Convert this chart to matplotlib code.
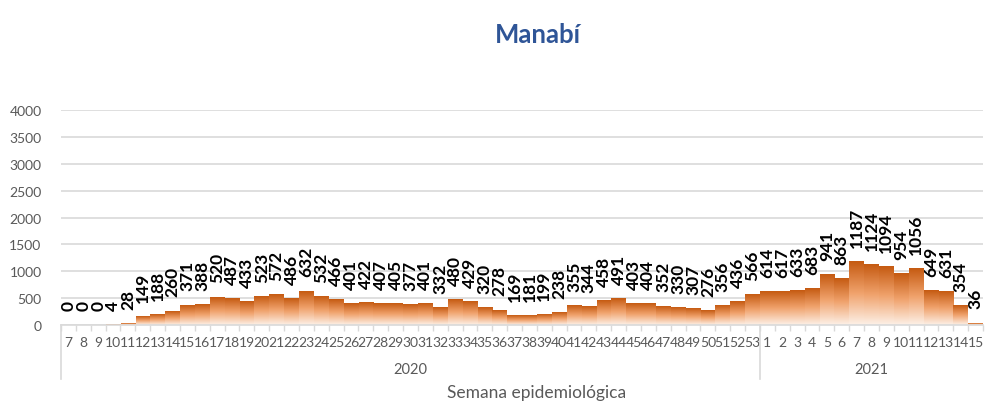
import matplotlib
matplotlib.use("Agg")
import matplotlib.pyplot as plt
import matplotlib.transforms as mtransforms
from matplotlib.colors import LinearSegmentedColormap
import numpy as np

plt.rcParams['font.family'] = ['Lato', 'DejaVu Sans']

# Casos por semana epidemiológica - Manabí
weeks_2020 = list(range(7, 54))
weeks_2021 = list(range(1, 16))
cases_2020 = [0, 0, 0, 4, 28, 149, 188, 260, 371, 388, 520, 487, 433, 523, 572,
              486, 632, 532, 466, 401, 422, 407, 405, 377, 401, 332, 480, 429,
              320, 278, 169, 181, 199, 238, 355, 344, 458, 491, 403, 404, 352,
              330, 307, 276, 356, 436, 566]
cases_2021 = [614, 617, 633, 683, 941, 863, 1187, 1124, 1094, 954, 1056, 649,
              631, 354, 36]
years = ['2020', '2021']

week_labels = [str(w) for w in weeks_2020 + weeks_2021]
cases = cases_2020 + cases_2021
x = np.arange(len(cases))

fig = plt.figure(figsize=(9.94, 4.06), dpi=100)
ax = fig.add_axes([61 / 994, 1 - 326 / 406, (983 - 61) / 994, (326 - 111) / 406])

# gradient fill per bar (dark on top, light at the bottom)
cmap = LinearSegmentedColormap.from_list('naranja', ['#fdf1e8', '#f0a26c', '#c55a11'])
grad = np.linspace(0, 1, 256).reshape(-1, 1)
w = 0.98
for xi, v in zip(x, cases):
    if v <= 0:
        continue
    ax.imshow(grad, cmap=cmap, origin='lower', aspect='auto',
              extent=(xi - w / 2, xi + w / 2, 0, v), zorder=2, interpolation='bilinear')

# value labels
for xi, v in zip(x, cases):
    ax.annotate(str(v), (xi, v), xytext=(0, 10.5), textcoords='offset points',
                rotation=90, ha='center', va='bottom', fontsize=12.5,
                fontweight='bold', color='black', zorder=4)

ax.set_xlim(-0.5, len(cases) - 0.5)
ax.set_ylim(0, 4000)
ax.set_yticks(range(0, 4001, 500))
ax.yaxis.grid(True, color='#d9d9d9', linewidth=1.2, zorder=0)
ax.set_axisbelow(True)

ax.set_xticks(x)
ax.set_xticklabels(week_labels, fontsize=10, color='#595959')
ax.tick_params(axis='x', length=0, pad=8)
ax.set_xticks(np.arange(-0.5, len(cases), 1), minor=True)
ax.tick_params(axis='x', which='minor', length=4, color='#d9d9d9', width=1)
ax.tick_params(axis='y', length=0, pad=14, labelsize=10, labelcolor='#595959')

for s in ['top', 'right', 'left']:
    ax.spines[s].set_visible(False)
ax.spines['bottom'].set_color('#d9d9d9')
ax.spines['bottom'].set_linewidth(1.2)

# year grouping below the week labels
trans = mtransforms.blended_transform_factory(ax.transData, ax.transAxes)
n20 = len(cases_2020)
for xs in [-0.5, n20 - 0.5]:
    ax.plot([xs, xs], [0, -0.251], transform=trans, color='#d9d9d9',
            linewidth=1.2, clip_on=False)
ax.text((n20 - 1) / 2, -0.205, years[0], transform=trans, ha='center', va='center',
        fontsize=10.5, color='#595959')
ax.text(n20 + (len(cases_2021) - 1) / 2, -0.205, years[1], transform=trans,
        ha='center', va='center', fontsize=10.5, color='#595959')

fig.text(538 / 994, 1 - 35 / 406, 'Manabí', ha='center', va='center',
         fontsize=18.5, fontweight='bold', color='#2f5597')
fig.text(537 / 994, 1 - 393 / 406, 'Semana epidemiológica', ha='center', va='center',
         fontsize=12.5, color='#595959')

fig.savefig('out.png', dpi=100)
